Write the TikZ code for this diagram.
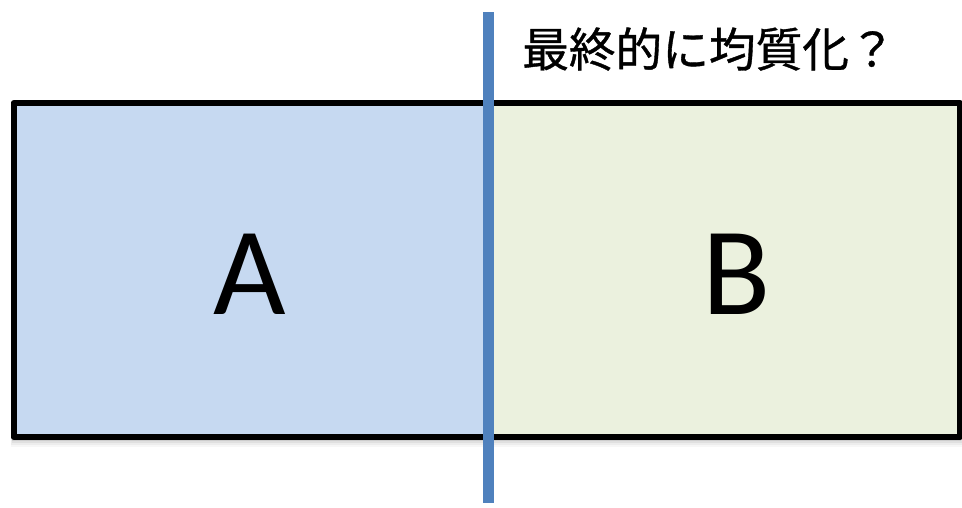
\documentclass[tikz,border=0pt]{standalone}
\usepackage{fontspec}
\setmainfont{Carlito}
\newfontfamily\cjk[FakeBold=0.8]{Noto Sans CJK JP}
\definecolor{fillA}{HTML}{C6D9F1}
\definecolor{fillB}{HTML}{EBF1DE}
\definecolor{divline}{HTML}{4F81BD}
\begin{document}
\begin{tikzpicture}[x=0.75pt,y=-0.75pt,
  bigletter/.style={font=\fontsize{94}{94}\selectfont, inner sep=0pt},
  note/.style={font=\cjk\fontsize{35}{35}\selectfont, inner sep=0pt}]
\useasboundingbox (0,0) rectangle (962,507);
% soft shadow
\foreach \d/\o in {2/0.10,4/0.08,6/0.06,8/0.04,10/0.03}{
  \fill[black,opacity=\o] (13.5-\d*0.3,103+\d) rectangle (960+\d*0.3,437+\d);
}
% fills
\fill[fillA] (13.5,103) rectangle (488,437);
\fill[fillB] (488,103) rectangle (960,437);
\coordinate (tl) at (13.5,103);
\coordinate (br) at (960,437);
\draw[line width=4.5pt, line join=round] (tl) rectangle (br);
% letters
\node[bigletter] (A) at (250,274) {A};
\node[bigletter] (B) at (737,274) {B};
% divider
\coordinate (ltop) at (488,12);
\coordinate (lbot) at (488,503);
\draw[divline, line width=8.25pt] (ltop) -- (lbot);
% note
\node[note, anchor=west] (q) at (522,49) {最終的に均質化？};
\end{tikzpicture}
\end{document}
